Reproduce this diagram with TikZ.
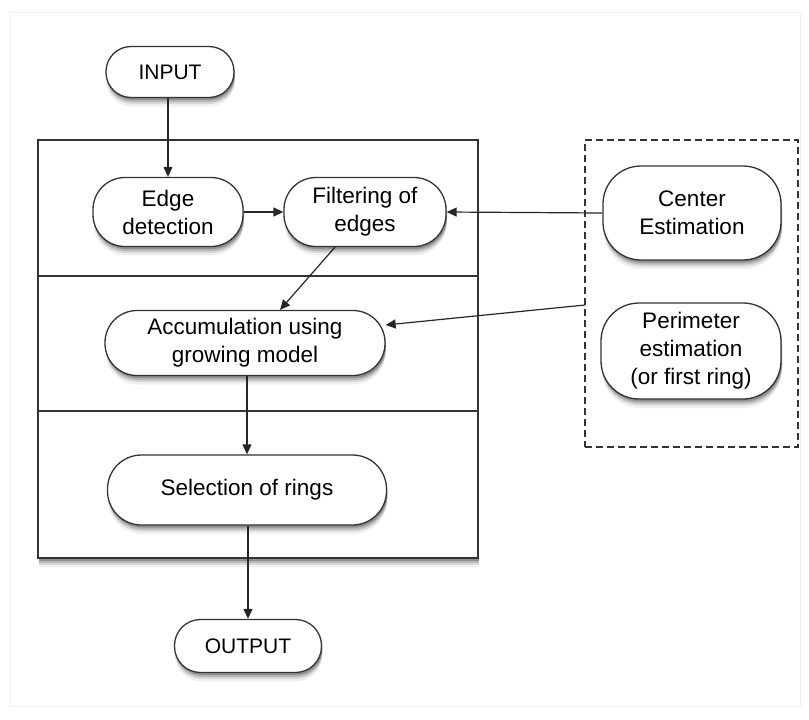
\documentclass[tikz,border=0pt]{standalone}
\usepackage{fontspec}
\setmainfont{Liberation Sans}
\usetikzlibrary{arrows.meta}
\begin{document}
\begin{tikzpicture}[x=1pt,y=-1pt,
  font=\fontsize{22.5}{28}\selectfont,
  softshadow/.style={
    preaction={draw=none,fill=black,fill opacity=0.06,transform canvas={xshift=0.5pt,yshift=-9pt}},
    preaction={draw=none,fill=black,fill opacity=0.10,transform canvas={xshift=1pt,yshift=-6.5pt}},
    preaction={draw=none,fill=black,fill opacity=0.15,transform canvas={xshift=1pt,yshift=-4.5pt}},
    preaction={draw=none,fill=black,fill opacity=0.22,transform canvas={xshift=1pt,yshift=-2.5pt}}},
  pill/.style={draw=black!80,line width=1.3pt,fill=white,softshadow,align=center,
    inner sep=0pt,rounded corners=#1},
  pill/.default=30pt,
  arr/.style={-{Triangle[length=10pt,width=9pt]},line width=1.2pt,black!85}]
  % page frame
  \useasboundingbox (0,0) rectangle (809,720);
  \draw[black!6,line width=1pt] (10,12) rectangle (800,706);

  % main processing box with its three stages
  \node[draw=black!80,line width=1.5pt,fill=white,softshadow,inner sep=0pt,
    minimum width=440pt,minimum height=418pt] (main) at (258,349) {};
  \coordinate (d1l) at (38,276); \coordinate (d1r) at (478,276);
  \coordinate (d2l) at (38,411); \coordinate (d2r) at (478,411);
  \draw[black!80,line width=1.3pt] (d1l) -- (d1r);
  \draw[black!80,line width=1.3pt] (d2l) -- (d2r);

  % dashed group of estimation steps
  \node[draw=black!80,line width=1.3pt,dashed,dash pattern=on 7pt off 4pt,
    inner sep=0pt,minimum width=213pt,minimum height=307pt] (est) at (691.5,293.5) {};

  % nodes
  \node[pill=25pt,minimum width=128pt,minimum height=51pt,font=\fontsize{21}{25}\selectfont]
    (in) at (170,72) {INPUT};
  \node[pill=32pt,minimum width=150pt,minimum height=69pt] (edge) at (168,212) {Edge\\detection};
  \node[pill=32pt,minimum width=162pt,minimum height=69pt] (filt) at (365,212) {Filtering of\\edges};
  \node[pill=38pt,minimum width=178pt,minimum height=94pt] (cen) at (692,213) {Center\\Estimation};
  \node[pill=38pt,minimum width=180pt,minimum height=96pt] (per) at (691,351) {Perimeter\\estimation\\(or first ring)};
  \node[pill=32pt,minimum width=280pt,minimum height=65pt] (acc) at (245,343) {Accumulation using\\growing model};
  \node[pill=34pt,minimum width=279pt,minimum height=70pt] (sel) at (247,490) {Selection of rings};
  \node[pill=26pt,minimum width=147pt,minimum height=53pt,font=\fontsize{21}{25}\selectfont]
    (out) at (248,646) {OUTPUT};

  % connectors
  \draw[arr] (in.south -| edge.north) -- (edge.north);
  \draw[arr] (edge) -- (filt);
  \draw[arr] (cen.west) -- (filt.east);
  \draw[arr] (filt.south) ++(-30,0) coordinate (fs) -- (acc.north -| 280,0);
  \coordinate (ge) at (585,305);
  \draw[arr] (ge) -- (acc.east |- 0,325);
  \draw[arr] (acc.south -| sel.north) -- (sel.north);
  \draw[arr] (sel.south -| out.north) -- (out.north);
\end{tikzpicture}
\end{document}
